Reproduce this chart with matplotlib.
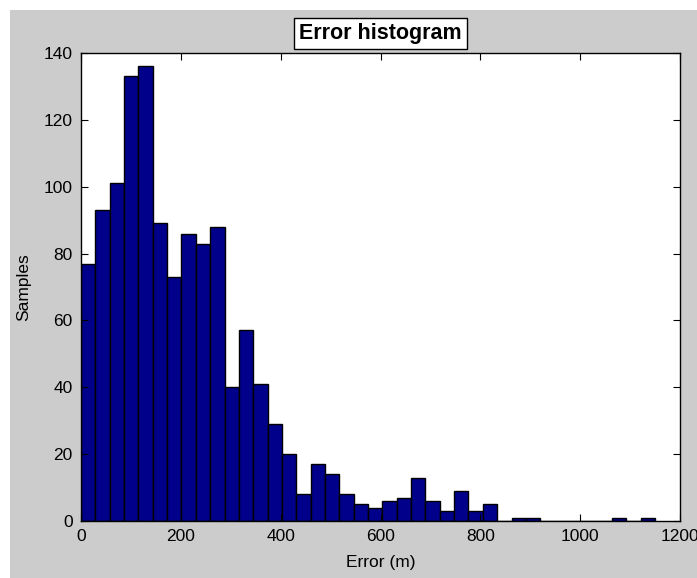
import numpy as np
import matplotlib
matplotlib.use("Agg")
import matplotlib.pyplot as plt
from matplotlib.patches import Rectangle

# histogram of position error, 40 bins from 0 to 1150 m
bin_lo = 0.0
bin_hi = 1150.0
n_bins = 40
counts = [77, 93, 101, 133, 136, 89, 73, 86, 83, 88,
          40, 57, 41, 29, 20, 8, 17, 14, 8, 5,
          4, 6, 7, 13, 6, 3, 9, 3, 5, 0,
          1, 1, 0, 0, 0, 0, 0, 1, 0, 1]
xticks = [0, 200, 400, 600, 800, 1000, 1200]
yticks = [0, 20, 40, 60, 80, 100, 120, 140]

plt.rcParams['font.family'] = ['Liberation Sans', 'DejaVu Sans']
plt.rcParams['font.size'] = 12.5

fig = plt.figure(figsize=(6.97, 5.78), dpi=100, facecolor='white')
# grey panel behind the plot, leaving a thin white border top/left
fig.patches.append(Rectangle((10 / 697, 0), 1, 1 - 10 / 578, transform=fig.transFigure,
                             facecolor='#cccccc', edgecolor='none', zorder=-10))

ax = fig.add_axes([81 / 697, 57 / 578, 599 / 697, 468 / 578])
edges = np.linspace(bin_lo, bin_hi, n_bins + 1)
ax.bar(edges[:-1], counts, width=np.diff(edges), align='edge',
       color='#00008b', edgecolor='black', linewidth=1.0)

ax.set_xlim(0, 1200)
ax.set_ylim(0, 140)
ax.set_xticks(xticks)
ax.set_yticks(yticks)
ax.tick_params(direction='in', top=True, right=True, length=5, width=0.8,
               pad=6, labelsize=12.5)
for s in ax.spines.values():
    s.set_linewidth(1.0)

ax.set_xlabel('Error (m)', labelpad=8)
ax.set_ylabel('Samples', labelpad=9)
ax.set_title('Error histogram', fontsize=15.5, fontweight='bold', pad=10,
             bbox=dict(facecolor='white', edgecolor='black', linewidth=1.0, pad=3.5))

fig.savefig('out.png', dpi=100, facecolor=fig.get_facecolor())
